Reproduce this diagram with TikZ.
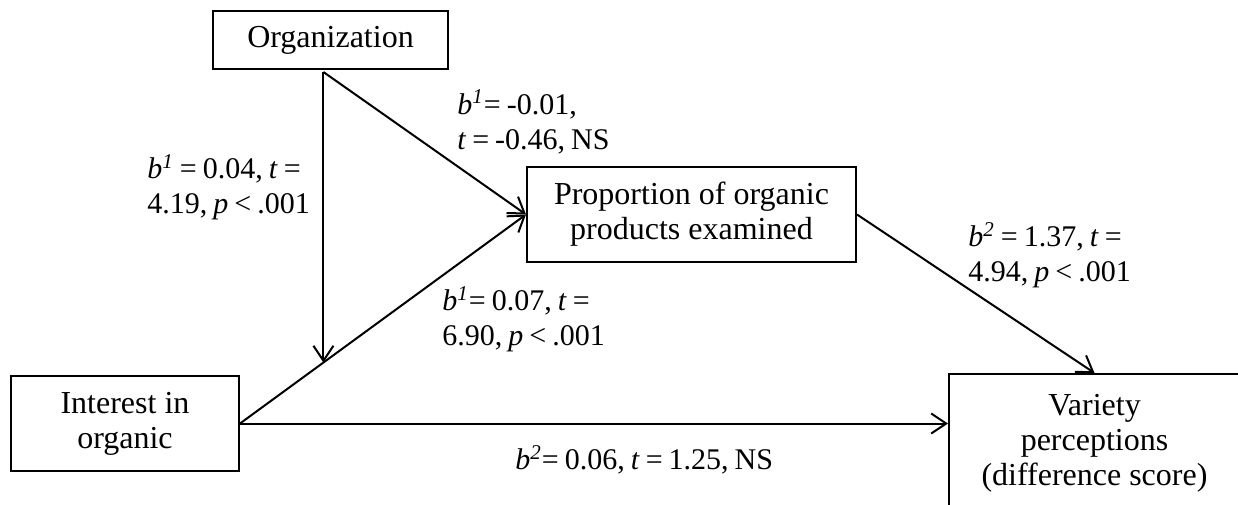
\documentclass[tikz,border=0pt]{standalone}
\usepackage{fontspec}
\setmainfont{Liberation Serif}
\usetikzlibrary{arrows.meta,calc}
\newcommand{\bsup}[1]{\textit{b}\textsuperscript{\textit{#1}}}
\newcommand{\tightsp}{\spaceskip=0.2em plus 0.05em minus 0.02em\relax}
\begin{document}
\begin{tikzpicture}[x=0.5pt,y=-0.5pt,
  font=\fontsize{16}{17.5}\selectfont,
  box/.style={draw,line width=1pt,inner sep=0pt,align=center},
  lbl/.style={anchor=west,align=left,inner sep=0pt,
    font=\fontsize{15}{17.5}\selectfont\tightsp},
  arr/.style={line width=1pt,-{Straight Barb[length=7.5pt,width=10pt,line width=1pt]}}]
\useasboundingbox (0,0) rectangle (1238,504);
\node[box,minimum width=117.5pt,minimum height=29pt] (org) at (330.5,40) {\raisebox{-1pt}{Organization}};
\node[box,minimum width=164.5pt,minimum height=47.5pt] (prop) at (691.5,214.5) {\raisebox{-3.5pt}{\begin{tabular}{@{}c@{}}Proportion of organic\\products examined\end{tabular}}};
\node[box,minimum width=114pt,minimum height=47.5pt] (inter) at (125,423.5) {\raisebox{-1.5pt}{\begin{tabular}{@{}c@{}}Interest in\\organic\end{tabular}}};
\node[box,minimum width=145.5pt,minimum height=69pt] (var) at (1094.5,443) {\raisebox{-1pt}{\begin{tabular}{@{}c@{}}Variety\\perceptions\\(difference score)\end{tabular}}};
\coordinate (j) at ($(inter.east)!0.2917!(prop.west)$);
\coordinate (o) at ([yshift=-1pt]j |- org.south);
\draw[arr] (o) -- (j);
\draw[arr] (o) -- (prop.west);
\draw[arr] (inter.east) -- (prop.west);
\draw[arr] (inter.east) -- (inter.east -| var.west);
\draw[arr] (prop.east) -- (var.north);
\node[lbl] (l1) at (147,187) {\bsup{1} = 0.04, \textit{t} =\\4.19, \textit{p} < .001};
\node[lbl] (l2) at (457,122) {\bsup{1}= -0.01,\\\textit{t} = -0.46, NS};
\node[lbl] (l3) at (442,319) {\bsup{1}= 0.07, \textit{t} =\\6.90, \textit{p} < .001};
\node[lbl] (l4) at (968,255) {\bsup{2} = 1.37, \textit{t} =\\4.94, \textit{p} < .001};
\node[lbl] (l5) at (515,460) {\bsup{2}= 0.06, \textit{t} = 1.25, NS};
\end{tikzpicture}
\end{document}
